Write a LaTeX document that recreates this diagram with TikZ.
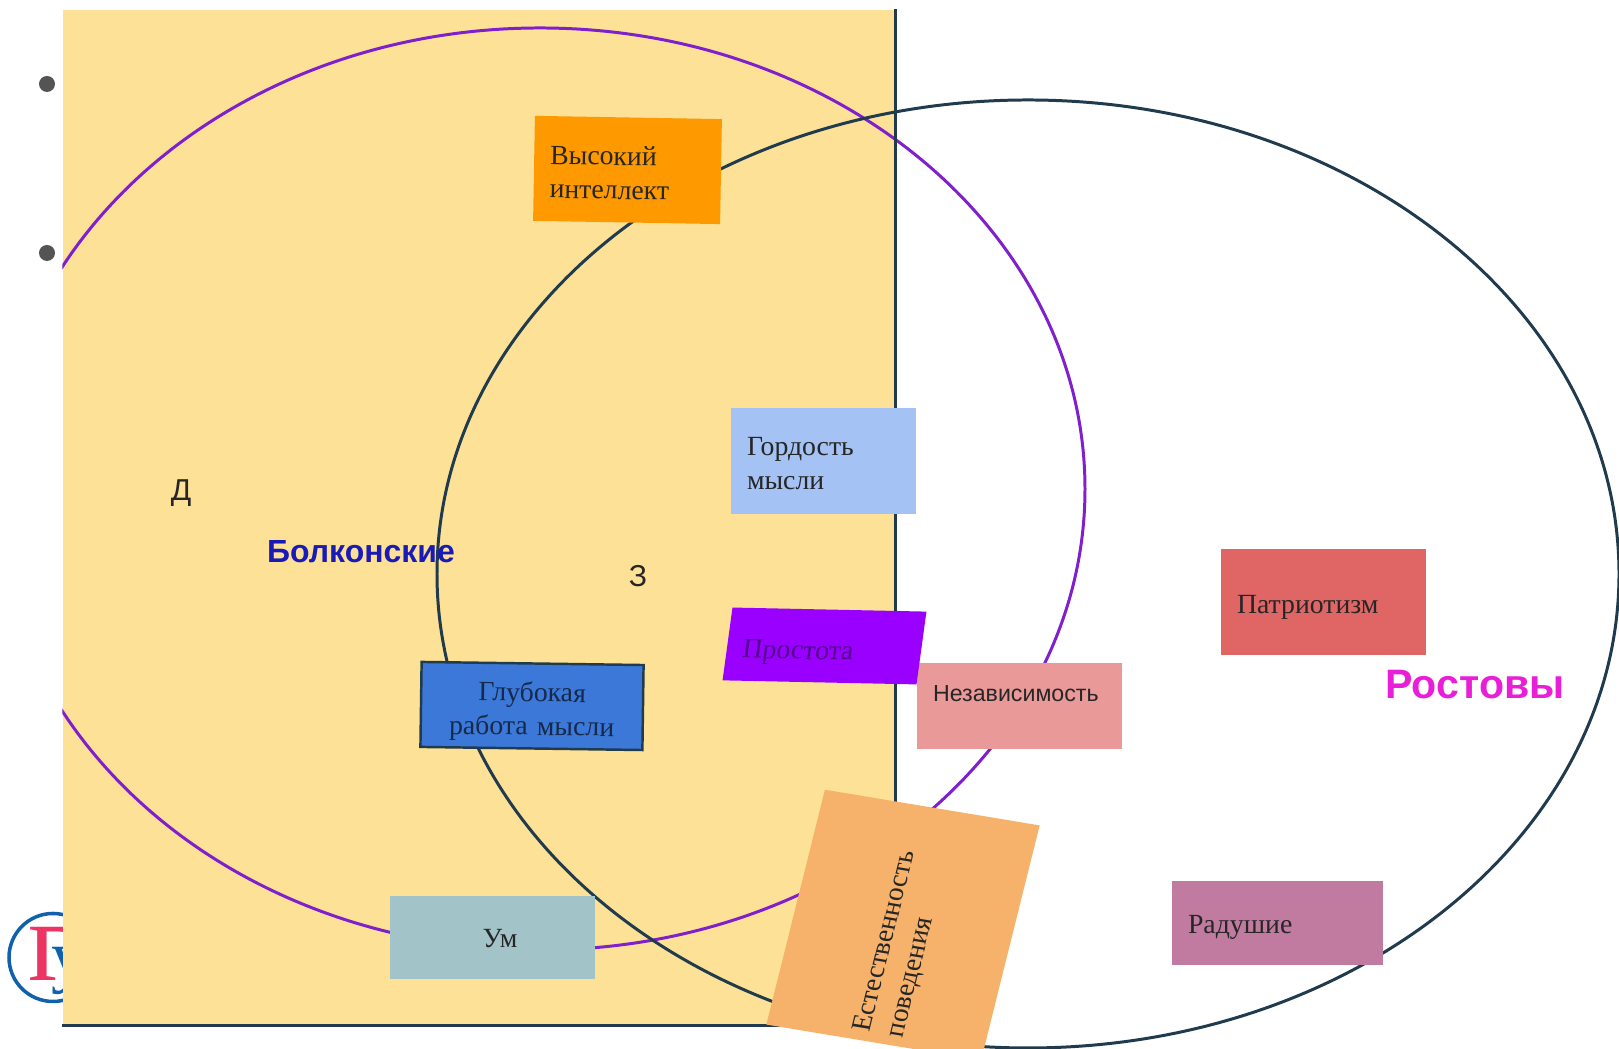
\documentclass[tikz,border=0pt]{standalone}
\usepackage{fontspec}
\setmainfont{Liberation Serif}
\setsansfont{Liberation Sans}
\usepackage{xcolor}
\definecolor{panelyellow}{HTML}{FDE196}
\definecolor{inkblue}{HTML}{1F3B4D}
\definecolor{ringviolet}{HTML}{8020CC}
\definecolor{logoblue}{HTML}{1160AC}
\definecolor{logored}{HTML}{EC3563}
\definecolor{cardorange}{HTML}{FF9900}
\definecolor{cardsky}{HTML}{A4C2F4}
\definecolor{cardred}{HTML}{E06666}
\definecolor{cardrose}{HTML}{EA9999}
\definecolor{cardviolet}{HTML}{9900FF}
\definecolor{cardblue}{HTML}{3C78D8}
\definecolor{cardteal}{HTML}{A2C4C9}
\definecolor{cardplum}{HTML}{C27BA0}
\definecolor{cardsand}{HTML}{F6B26B}
\definecolor{namebolk}{HTML}{1A1AB8}
\definecolor{namerost}{HTML}{E81ED8}

\begin{document}
\begin{tikzpicture}[
    card/.style={inner ysep=0pt, inner xsep=0.16cm, font=\fontsize{7.9}{9.6}\selectfont, text=black!85, align=left},
    caption/.style={font=\sffamily\fontsize{8.6}{10}\selectfont, text=black!85, inner sep=0pt},
    family/.style={inner sep=0pt},
    bullet/.style={circle, fill=black!67, minimum size=0.16cm, inner sep=0pt}
]
    \useasboundingbox (0,0) rectangle (16.19,10.49);

    \node[circle, draw=logoblue, line width=1pt, minimum size=0.88cm, inner sep=0pt] (logo) at (0.53,0.915) {};
    \node[text=logored, font=\fontsize{33}{33}\selectfont, inner sep=0pt] (logoG) at (0.52,0.95) {г};
    \node[text=logoblue, font=\fontsize{20}{20}\selectfont, inner sep=0pt] (logoU) at (0.69,0.78) {у};
    \node[bullet] (dotA) at (0.47,9.65) {};
    \node[bullet] (dotB) at (0.47,7.96) {};

    \node[fill=panelyellow, minimum width=8.32cm, minimum height=10.15cm, inner sep=0pt] (panel) at (4.79,5.315) {};

    \begin{scope}
        \clip (panel.south west) rectangle (16.19,10.49);
        \draw[ringviolet, line width=0.85pt] (5.40,5.60) ellipse (5.45 and 4.61);
    \end{scope}
    \draw[inkblue, line width=0.85pt] (10.28,4.75) ellipse (5.91 and 4.74);
    \draw[inkblue, line width=0.9pt] (panel.north east) -- (panel.south east) -- (panel.south west);

    \node[card, fill=cardorange, text width=1.55cm, text height=0.48cm, text depth=0.57cm, rotate=-1] (intellect) at (6.275,8.79) {Высокий\\интеллект};
    \node[card, fill=cardsky, text width=1.53cm, text height=0.48cm, text depth=0.58cm] (pride) at (8.235,5.88) {Гордость\\мысли};
    \node[card, fill=cardred, text width=1.73cm, text height=0.65cm, text depth=0.41cm] (patriot) at (13.235,4.47) {Патриотизм};
    \node[card, fill=cardrose, font=\sffamily\fontsize{6.6}{8}\selectfont, text width=1.73cm, text height=0.39cm, text depth=0.47cm] (free) at (10.195,3.43) {Независимость};
    \node[card, fill=cardviolet, text=cardviolet!55!black, text width=1.62cm, text height=0.50cm, text depth=0.23cm, rotate=-1.2, xslant=0.115, transform shape] (simple) at (8.245,4.03) {Простота};
    \node[card, fill=cardblue, draw=inkblue, line width=0.7pt, text=cardblue!35!black, align=center, text width=1.9cm, text height=0.38cm, text depth=0.47cm, rotate=-0.8] (work) at (5.32,3.43) {Глубокая\\работа мысли};
    \node[card, fill=cardteal, align=center, text width=1.73cm, text height=0.52cm, text depth=0.31cm] (mind) at (4.925,1.115) {\hspace*{0.15cm}Ум};
    \node[card, fill=cardplum, text width=1.79cm, text height=0.53cm, text depth=0.31cm] (warm) at (12.775,1.26) {Радушие};
    \node[card, fill=cardsand, inner xsep=0.09cm, text width=2.24cm, text height=1.02cm, text depth=1.15cm, rotate=76, xslant=-0.08, transform shape] (natural) at (9.03,1.24) {Естественность\\поведения};

    \node[caption] (letterD) at (1.81,5.56) {Д};
    \node[caption] (letterZ) at (6.38,4.73) {З};
    \node[family, text=namebolk, font=\sffamily\bfseries\fontsize{9.1}{10}\selectfont] (bolkonsky) at (3.61,4.97) {Болконские};
    \node[family, text=namerost, font=\sffamily\bfseries\fontsize{11.7}{13}\selectfont] (rostov) at (14.75,3.64) {Ростовы};
\end{tikzpicture}
\end{document}
